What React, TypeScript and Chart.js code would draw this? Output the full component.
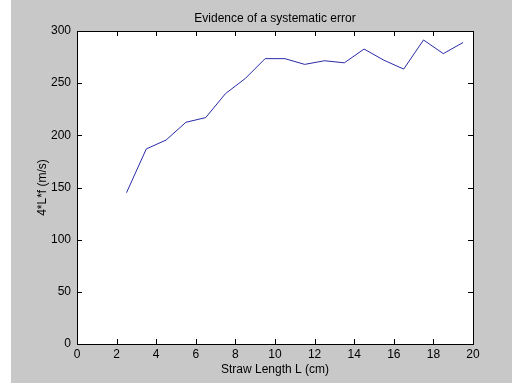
import React, { useEffect, useRef } from "react";
import { Chart, registerables } from "chart.js";

Chart.register(...registerables);

const lengths = [2.5, 3.5, 4.5, 5.5, 6.5, 7.5, 8.5, 9.5, 10.5, 11.5, 12.5, 13.5, 14.5, 15.5, 16.5, 17.5, 18.5, 19.5];
const speeds = [145, 187, 195.5, 212.5, 217, 240, 254.5, 273.5, 273.5, 268, 271.5, 269.5, 282.7, 272, 263.5, 291.4, 278.3, 289];
const xTicksMax = 20;
const yTicksMax = 300;
const titleText = "Evidence of a systematic error";
const xLabel = "Straw Length L (cm)";
const yLabel = "4*L*f (m/s)";

const FONT = "'Liberation Sans', Arial, sans-serif";

const bgPlugin = {
  id: "matlabBg",
  beforeDraw(chart: any) {
    const ctx = chart.ctx;
    ctx.save();
    ctx.fillStyle = "#ffffff";
    ctx.fillRect(0, 0, chart.width, chart.height);
    ctx.fillStyle = "#c8c8c8";
    ctx.fillRect(11, 0, chart.width - 11, chart.height);
    const a = chart.chartArea;
    ctx.fillStyle = "#ffffff";
    ctx.fillRect(a.left, a.top, a.right - a.left, a.bottom - a.top);
    ctx.fillStyle = "#000000";
    ctx.font = "12px " + FONT;
    ctx.textAlign = "center";
    ctx.textBaseline = "middle";
    ctx.fillText(titleText, (a.left + a.right) / 2, 18.5);
    ctx.restore();
  },
  afterDatasetsDraw(chart: any) {
    const ctx = chart.ctx;
    const a = chart.chartArea;
    const xs = chart.scales.x;
    const ys = chart.scales.y;
    ctx.save();
    ctx.strokeStyle = "#000000";
    ctx.lineWidth = 1;
    ctx.beginPath();
    const L = 5;
    xs.ticks.forEach((t: any) => {
      const px = Math.round(xs.getPixelForValue(t.value)) + 0.5;
      ctx.moveTo(px, a.bottom);
      ctx.lineTo(px, a.bottom - L);
      ctx.moveTo(px, a.top);
      ctx.lineTo(px, a.top + L);
    });
    ys.ticks.forEach((t: any) => {
      const py = Math.round(ys.getPixelForValue(t.value)) + 0.5;
      ctx.moveTo(a.left, py);
      ctx.lineTo(a.left + L, py);
      ctx.moveTo(a.right, py);
      ctx.lineTo(a.right - L, py);
    });
    ctx.stroke();
    ctx.strokeRect(Math.round(a.left) + 0.5, Math.round(a.top) + 0.5, Math.round(a.right - a.left), Math.round(a.bottom - a.top));
    ctx.restore();
  },
};

export default function App() {
  const ref = useRef<HTMLCanvasElement | null>(null);
  useEffect(() => {
    if (!ref.current) return;
    const chart = new Chart(ref.current, {
      type: "line",
      data: {
        datasets: [
          {
            data: lengths.map((x, i) => ({ x, y: speeds[i] })),
            borderColor: "#2a2aa8",
            borderWidth: 1,
            pointRadius: 0,
            tension: 0,
            fill: false,
          },
        ],
      },
      options: {
        animation: false,
        responsive: false,
        maintainAspectRatio: false,
        devicePixelRatio: 1,
        layout: { padding: { left: 0, right: 39, top: 31, bottom: 0 } },
        plugins: {
          legend: { display: false },
          tooltip: { enabled: false },
          title: { display: false },
        },
        scales: {
          x: {
            type: "linear",
            min: 0,
            max: xTicksMax,
            ticks: { stepSize: 2, color: "#000000", font: { family: FONT, size: 12 }, padding: 3, maxRotation: 0 },
            grid: { display: false, drawTicks: false },
            border: { display: false },
            title: {
              display: true,
              text: xLabel,
              color: "#000000",
              font: { family: FONT, size: 12 },
              padding: { top: 0, bottom: 5.8 },
            },
            afterFit: (s: any) => {
              s.height = 39;
            },
          },
          y: {
            type: "linear",
            min: 0,
            max: yTicksMax,
            ticks: { stepSize: 50, color: "#000000", font: { family: FONT, size: 12 }, padding: 6 },
            grid: { display: false, drawTicks: false },
            border: { display: false },
            title: {
              display: true,
              text: yLabel,
              color: "#000000",
              font: { family: FONT, size: 12 },
              padding: { top: 35, bottom: 0 },
            },
            afterFit: (s: any) => {
              s.width = 77;
            },
          },
        },
      },
      plugins: [bgPlugin],
    });
    return () => chart.destroy();
  }, []);
  return (
    <div style={{ position: "fixed", left: 0, top: 0, width: 512, height: 383 }}>
      <canvas ref={ref} width={512} height={383} style={{ width: 512, height: 383, display: "block" }} />
    </div>
  );
}
